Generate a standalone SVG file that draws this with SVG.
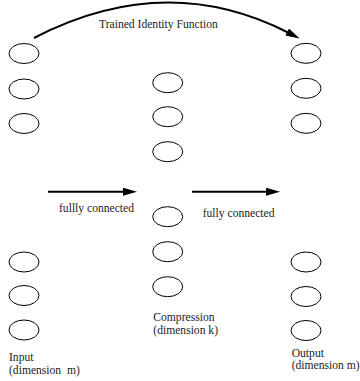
<svg xmlns="http://www.w3.org/2000/svg" width="360" height="381" viewBox="0 0 360 381">
<style>
.n{fill:none;stroke:#000;stroke-width:1}
.c{fill:none;stroke:#000;stroke-width:2}
text{font-family:"Liberation Serif","Times New Roman",serif;font-size:11.6px;fill:#222}
</style>
<defs>
<marker id="ah" markerUnits="userSpaceOnUse" markerWidth="16" markerHeight="10" refX="1" refY="4" orient="auto">
<path d="M0,0 L14,4 L0,8 z" fill="#000"/>
</marker>
</defs>
<rect width="360" height="381" fill="#fff"/>
<g id="connectors">
<path class="c" d="M34,38 Q165,-30 288,32.5" marker-end="url(#ah)"/>
<path class="c" d="M48,191.7 H124" marker-end="url(#ah)"/>
<path class="c" d="M192,191.7 H267" marker-end="url(#ah)"/>
</g>
<g id="input">
<ellipse class="n" cx="24" cy="53.5" rx="15" ry="10"/>
<ellipse class="n" cx="24" cy="89" rx="15" ry="10"/>
<ellipse class="n" cx="24" cy="123.5" rx="15" ry="10"/>
<ellipse class="n" cx="24" cy="262" rx="15" ry="10"/>
<ellipse class="n" cx="24" cy="295.5" rx="15" ry="10"/>
<ellipse class="n" cx="24" cy="330" rx="15" ry="10"/>
<text x="9" y="361">Input</text>
<text x="9" y="374" xml:space="preserve">(dimension  m)</text>
</g>
<g id="compression">
<ellipse class="n" cx="167.7" cy="82.7" rx="15" ry="10"/>
<ellipse class="n" cx="167.7" cy="116.7" rx="15" ry="10"/>
<ellipse class="n" cx="167.7" cy="151.7" rx="15" ry="10"/>
<ellipse class="n" cx="167.7" cy="216.7" rx="15" ry="10"/>
<ellipse class="n" cx="167.7" cy="251.7" rx="15" ry="10"/>
<ellipse class="n" cx="167.7" cy="286.7" rx="15" ry="10"/>
<text x="153.3" y="320.7">Compression</text>
<text x="153.3" y="333.5">(dimension k)</text>
</g>
<g id="output">
<ellipse class="n" cx="306" cy="53.3" rx="15" ry="10"/>
<ellipse class="n" cx="306" cy="88.3" rx="15" ry="10"/>
<ellipse class="n" cx="306" cy="123.3" rx="15" ry="10"/>
<ellipse class="n" cx="306" cy="262" rx="15" ry="10"/>
<ellipse class="n" cx="306" cy="296.5" rx="15" ry="10"/>
<ellipse class="n" cx="306" cy="330.5" rx="15" ry="10"/>
<text x="291.7" y="356.5">Output</text>
<text x="291.7" y="368.5">(dimension m)</text>
</g>
<g id="labels">
<text x="99" y="28.3">Trained Identity Function</text>
<text x="59" y="211.7">fullly connected</text>
<text x="202.7" y="217">fully connected</text>
</g>
</svg>
